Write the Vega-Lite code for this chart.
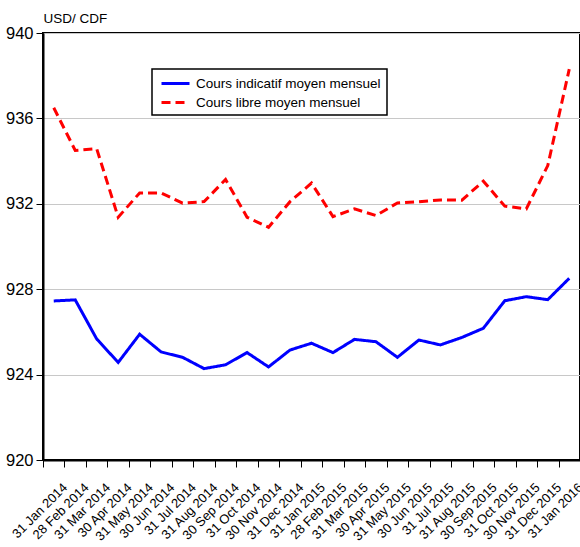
{
  "$schema": "https://vega.github.io/schema/vega-lite/v6.json",
  "autosize": {"type": "none"},
  "padding": {"left": 43, "top": 33, "right": 0, "bottom": 87},
  "width": 537,
  "height": 427,
  "background": "white",
  "config": {
    "font": "Liberation Sans",
    "view": {"stroke": "black", "strokeWidth": 2}
  },
  "data": {
    "values": [
      {"date": "31 Jan 2014", "indicatif": 927.45, "libre": 936.5},
      {"date": "28 Feb 2014", "indicatif": 927.5, "libre": 934.5},
      {"date": "31 Mar 2014", "indicatif": 925.67, "libre": 934.58},
      {"date": "30 Apr 2014", "indicatif": 924.57, "libre": 931.37},
      {"date": "31 May 2014", "indicatif": 925.89, "libre": 932.51},
      {"date": "30 Jun 2014", "indicatif": 925.06, "libre": 932.51},
      {"date": "31 Jul 2014", "indicatif": 924.81, "libre": 932.03},
      {"date": "31 Aug 2014", "indicatif": 924.28, "libre": 932.1},
      {"date": "30 Sep 2014", "indicatif": 924.46, "libre": 933.14},
      {"date": "31 Oct 2014", "indicatif": 925.03, "libre": 931.37},
      {"date": "30 Nov 2014", "indicatif": 924.36, "libre": 930.9},
      {"date": "31 Dec 2014", "indicatif": 925.15, "libre": 932.1},
      {"date": "31 Jan 2015", "indicatif": 925.47, "libre": 932.97},
      {"date": "28 Feb 2015", "indicatif": 925.03, "libre": 931.4},
      {"date": "31 Mar 2015", "indicatif": 925.65, "libre": 931.76},
      {"date": "30 Apr 2015", "indicatif": 925.54, "libre": 931.45},
      {"date": "31 May 2015", "indicatif": 924.81, "libre": 932.04},
      {"date": "30 Jun 2015", "indicatif": 925.62, "libre": 932.09},
      {"date": "31 Jul 2015", "indicatif": 925.39, "libre": 932.18},
      {"date": "31 Aug 2015", "indicatif": 925.74, "libre": 932.17},
      {"date": "30 Sep 2015", "indicatif": 926.17, "libre": 933.06},
      {"date": "31 Oct 2015", "indicatif": 927.46, "libre": 931.89},
      {"date": "30 Nov 2015", "indicatif": 927.65, "libre": 931.76},
      {"date": "31 Dec 2015", "indicatif": 927.51, "libre": 933.79},
      {"date": "31 Jan 2016", "indicatif": 928.51, "libre": 938.31}
    ]
  },
  "transform": [
    {"fold": ["indicatif", "libre"], "as": ["key", "value"]},
    {"lookup": "key", "from": {"data": {"values": [
      {"key": "indicatif", "series": "Cours indicatif moyen mensuel"},
      {"key": "libre", "series": "Cours libre moyen mensuel"}
    ]}, "key": "key", "fields": ["series"]}}
  ],
  "mark": {"type": "line", "strokeWidth": 3, "clip": true},
  "encoding": {
    "x": {
      "field": "date", "type": "ordinal", "sort": null,
      "scale": {"paddingInner": 0, "paddingOuter": 0},
      "axis": {
        "title": null, "grid": false,
        "labelAngle": -45, "labelAlign": "right", "labelBaseline": "middle",
        "labelFontSize": 13, "labelColor": "black", "labelOverlap": false, "labelLimit": 0,
        "labelPadding": 18, "labelOffset": 11,
        "tickBand": "extent", "tickSize": 7, "tickColor": "black", "tickWidth": 1,
        "domainColor": "black", "domainWidth": 2
      }
    },
    "y": {
      "field": "value", "type": "quantitative",
      "scale": {"domain": [920, 940], "nice": false, "zero": false},
      "axis": {
        "title": "USD/ CDF", "titleAngle": 0, "titleAlign": "left", "titleBaseline": "alphabetic",
        "titleX": 0, "titleY": -11, "titleFontSize": 13.5, "titleFontWeight": "normal", "titleColor": "black",
        "values": [920, 924, 928, 932, 936, 940],
        "labelFontSize": 16.5, "labelColor": "black", "labelPadding": 3,
        "tickSize": 7, "tickColor": "black", "tickWidth": 1,
        "domainColor": "black", "domainWidth": 2,
        "grid": true, "gridColor": "#c8c8c8", "gridWidth": 1
      }
    },
    "color": {
      "field": "series", "type": "nominal",
      "scale": {"domain": ["Cours indicatif moyen mensuel", "Cours libre moyen mensuel"], "range": ["#0000ff", "#ff0000"]},
      "legend": {
        "title": null, "orient": "none", "legendX": 109, "legendY": 36,
        "fillColor": "white", "strokeColor": "black", "padding": 6,
        "symbolType": "M-2,0H2", "symbolSize": 196, "symbolStrokeWidth": 3, "symbolOffset": 9,
        "labelFontSize": 13.5, "labelColor": "black", "labelOffset": 12, "labelLimit": 0, "rowPadding": 4,
        "encode": {"legend": {"update": {"strokeWidth": {"value": 1.5}}}}
      }
    },
    "strokeDash": {
      "field": "series", "type": "nominal",
      "scale": {"domain": ["Cours indicatif moyen mensuel", "Cours libre moyen mensuel"], "range": [[1, 0], [9, 5]]},
      "legend": {
        "title": null, "orient": "none", "legendX": 109, "legendY": 36,
        "fillColor": "white", "strokeColor": "black", "padding": 6,
        "symbolType": "M-2,0H2", "symbolSize": 196, "symbolStrokeWidth": 3, "symbolOffset": 9,
        "labelFontSize": 13.5, "labelColor": "black", "labelOffset": 12, "labelLimit": 0, "rowPadding": 4,
        "encode": {"legend": {"update": {"strokeWidth": {"value": 1.5}}}}
      }
    }
  }
}
